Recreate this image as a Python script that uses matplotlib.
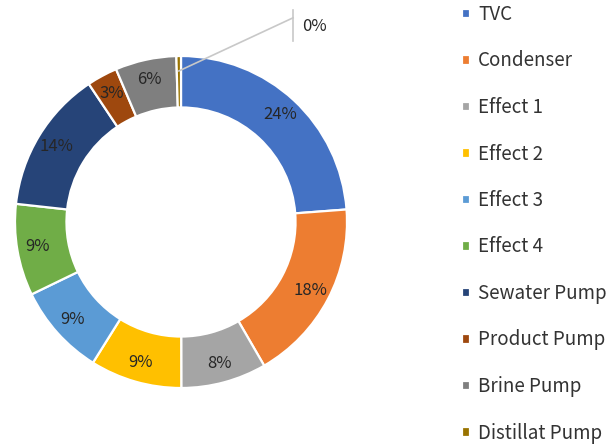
import numpy as np
import matplotlib.pyplot as plt

plt.rcParams['font.family'] = ['Noto Sans CJK SC', 'DejaVu Sans']

# data
labels = ['TVC', 'Condenser', 'Effect 1', 'Effect 2', 'Effect 3', 'Effect 4',
          'Sewater Pump', 'Product Pump', 'Brine Pump', 'Distillat Pump']
values = [24, 18, 8.4, 9, 9, 9, 14, 3, 6, 0.45]
pct_text = ['24%', '18%', '8%', '9%', '9%', '9%', '14%', '3%', '6%', '0%']
colors = ['#4472C4', '#ED7D31', '#A5A5A5', '#FFC000', '#5B9BD5', '#70AD47',
          '#264478', '#9E480E', '#7F7F7F', '#997300']

W, H = 610, 448
fig = plt.figure(figsize=(W / 100, H / 100), dpi=100)
cx, cy, r = 181, 222, 166
ax = fig.add_axes([(cx - r) / W, (H - cy - r) / H, 2 * r / W, 2 * r / H])

wedges, _ = ax.pie(values, colors=colors, startangle=90, counterclock=False,
                   radius=1.0,
                   wedgeprops=dict(width=0.31, edgecolor='white', linewidth=1.6))
ax.set_xlim(-1, 1)
ax.set_ylim(-1, 1)
ax.set_aspect('equal')
ax.axis('off')

# labels in the ring
rl = 0.88
for w, t in zip(wedges[:-1], pct_text[:-1]):
    ang = np.deg2rad((w.theta1 + w.theta2) / 2)
    ax.text(rl * np.cos(ang), rl * np.sin(ang), t, ha='center', va='center',
            fontsize=12, color='#262626')

# leader for the tiny slice
w = wedges[-1]
ang = np.deg2rad((w.theta1 + w.theta2) / 2)
x0, y0 = 0.91 * np.cos(ang), 0.91 * np.sin(ang)
ax.plot([x0, 0.675], [y0, 1.23], color='#C8C8C8', lw=1.2, clip_on=False)
ax.plot([0.675, 0.675], [1.09, 1.28], color='#C8C8C8', lw=1.2, clip_on=False)
ax.text(0.73, 1.18, pct_text[-1], ha='left', va='center', fontsize=12,
        color='#262626')

# legend
leg = fig.legend(wedges, labels, loc='upper left',
                 bbox_to_anchor=(462 / W, 1 - 4 / H), frameon=False,
                 borderpad=0, borderaxespad=0,
                 fontsize=13.5, handlelength=0.4, handleheight=0.4,
                 handletextpad=0.45, labelspacing=1.36, labelcolor='#333333')

fig.savefig('out.png', dpi=100)
